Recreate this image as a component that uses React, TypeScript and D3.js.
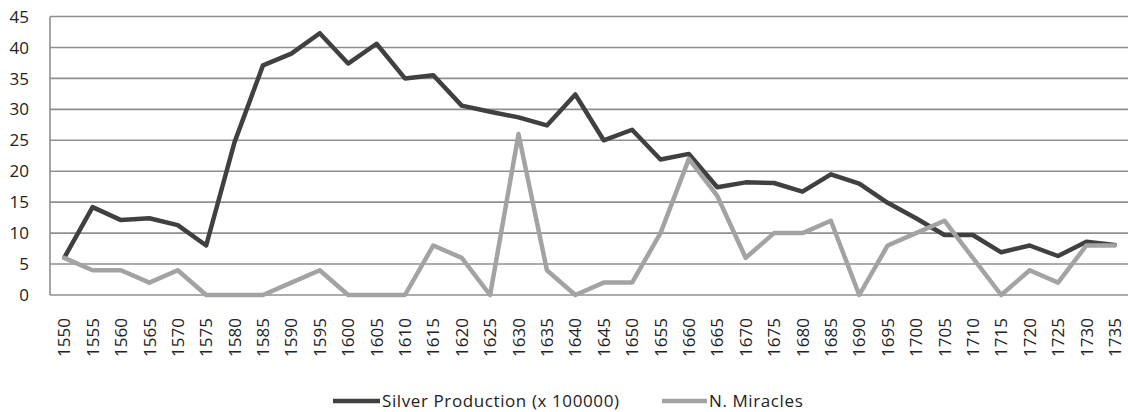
import React from "react";
import * as d3 from "d3";

const years: number[] = [
  1550, 1555, 1560, 1565, 1570, 1575, 1580, 1585, 1590, 1595, 1600, 1605, 1610,
  1615, 1620, 1625, 1630, 1635, 1640, 1645, 1650, 1655, 1660, 1665, 1670, 1675,
  1680, 1685, 1690, 1695, 1700, 1705, 1710, 1715, 1720, 1725, 1730, 1735,
];

const silverProduction: number[] = [
  6, 14.2, 12.1, 12.4, 11.3, 8.0, 24.7, 37.1, 39.0, 42.3, 37.4, 40.6, 35.0,
  35.5, 30.6, 29.6, 28.7, 27.4, 32.4, 25.0, 26.7, 21.9, 22.8, 17.4, 18.2, 18.1,
  16.7, 19.5, 18.0, 14.9, 12.4, 9.7, 9.7, 6.9, 8.0, 6.3, 8.6, 8.1,
];

const miracles: number[] = [
  6, 4, 4, 2, 4, 0, 0, 0, 2, 4, 0, 0, 0,
  8, 6, 0, 26, 4, 0, 2, 2, 10, 22, 16, 6, 10,
  10, 12, 0, 8, 10, 12, 6, 0, 4, 2, 8, 8,
];

const yTicks: number[] = [0, 5, 10, 15, 20, 25, 30, 35, 40, 45];

const seriesNames: string[] = ["Silver Production (x 100000)", "N. Miracles"];
const seriesColors: string[] = ["#404040", "#a3a3a3"];

const W = 1128;
const H = 412;
const FONT = "'Open Sans', sans-serif";

export default function App() {
  const x = d3
    .scalePoint<number>()
    .domain(years)
    .range([50, 1129])
    .padding(0.5);
  const y = d3.scaleLinear().domain([0, 45]).range([295, 16.5]);

  const line = d3
    .line<number>()
    .x((_, i) => x(years[i]) as number)
    .y((d) => y(d));

  const series = [silverProduction, miracles];
  const legendY = 401;

  return (
    <svg
      width={W}
      height={H}
      style={{ position: "absolute", left: 0, top: 0, background: "#fff" }}
      fontFamily={FONT}
    >
      {/* gridlines */}
      {yTicks.map((t) => (
        <line
          key={t}
          x1={50}
          x2={W}
          y1={y(t)}
          y2={y(t)}
          stroke="#8f8f8f"
          strokeWidth={1.6}
        />
      ))}
      {/* y axis line */}
      <line x1={50} x2={50} y1={y(45)} y2={y(0)} stroke="#8f8f8f" strokeWidth={1.6} />
      {/* y tick labels */}
      {yTicks.map((t) => (
        <text
          key={t}
          x={29}
          y={y(t)}
          dy="0.36em"
          textAnchor="end"
          fontSize={17}
          fill="#222"
        >
          {t}
        </text>
      ))}
      {/* x tick labels */}
      {years.map((yr) => (
        <text
          key={yr}
          transform={`translate(${x(yr)},${318}) rotate(-90)`}
          textAnchor="end"
          dy="0.36em"
          fontSize={17}
          fill="#222"
        >
          {yr}
        </text>
      ))}
      {/* series lines */}
      {series.map((s, i) => (
        <path
          key={i}
          d={line(s) || ""}
          fill="none"
          stroke={seriesColors[i]}
          strokeWidth={4.5}
          strokeLinejoin="round"
          strokeLinecap="round"
        />
      ))}
      {/* legend */}
      <g>
        <line x1={333} x2={380} y1={legendY} y2={legendY} stroke={seriesColors[0]} strokeWidth={4.5} />
        <text x={382} y={legendY} dy="0.33em" fontSize={17} letterSpacing={0.6} fill="#222">
          {seriesNames[0]}
        </text>
        <line x1={662} x2={707} y1={legendY} y2={legendY} stroke={seriesColors[1]} strokeWidth={4.5} />
        <text x={709} y={legendY} dy="0.33em" fontSize={17} letterSpacing={0.6} fill="#222">
          {seriesNames[1]}
        </text>
      </g>
    </svg>
  );
}
